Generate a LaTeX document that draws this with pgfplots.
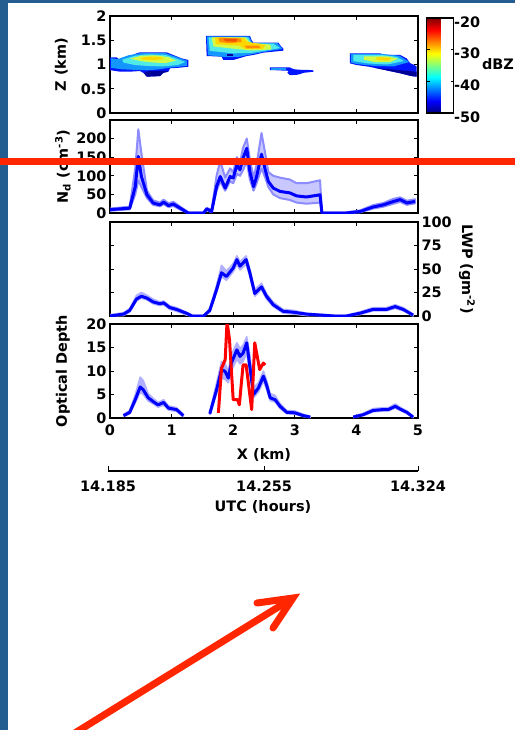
\documentclass[border=0pt]{standalone}
\usepackage{fontspec}
\setmainfont{DejaVu Sans}
\usepackage{pgfplots}
\pgfplotsset{compat=1.18}
\usepackage{pgfplotstable}

\definecolor{frameblue}{RGB}{36,94,145}
\definecolor{markred}{RGB}{255,38,0}
\definecolor{bandfill}{RGB}{200,200,255}
\definecolor{bandedge}{RGB}{140,140,255}
% jet-like shades for the radar blobs
\definecolor{jA}{RGB}{0,0,150}
\definecolor{jB}{RGB}{0,20,255}
\definecolor{jC}{RGB}{20,150,255}
\definecolor{jD}{RGB}{80,235,230}
\definecolor{jE}{RGB}{210,250,70}
\definecolor{jF}{RGB}{255,215,0}
\definecolor{jG}{RGB}{255,140,0}
\definecolor{jH}{RGB}{240,80,0}

\pgfplotsset{
  every axis/.append style={
    /pgf/number format/assume math mode=true,
    tick label style={font=\fontsize{14.5}{15}\selectfont\bfseries},
    label style={font=\fontsize{14.5}{15}\selectfont\bfseries},
  },
  panel/.style={scale only axis, width=308bp, xmin=0, xmax=5,
    xtick={0,...,5}, xticklabels={}, tick align=inside,
    major tick length=4bp, axis line style={line width=1.1bp},
    every tick/.style={black, line width=0.9bp},
    ylabel style={at={(axis description cs:-0.158,0.5)}, anchor=center}},
  midline/.style={blue, line width=3bp, line join=round},
  band/.style={fill=bandfill, draw=bandedge, line width=2bp, line join=round},
  thinband/.style={fill=bandfill!60!bandedge, draw=bandfill!60!bandedge, line width=1.5bp, line join=round},
}

% Nd central values
\pgfplotstableread{
x mid
0.00 9
0.32 13
0.41 71
0.46 152
0.51 98
0.60 49
0.70 27
0.81 22
0.87 29
0.95 20
1.03 24
1.14 13
1.27 0
1.52 0
1.57 11
1.65 4
1.73 71
1.79 98
1.87 67
1.95 98
2.00 94
2.06 129
2.11 116
2.16 147
2.22 174
2.27 112
2.33 71
2.38 98
2.46 158
2.52 116
2.57 85
2.65 67
2.76 58
2.92 54
3.03 46
3.19 43
3.41 49
3.44 0
3.84 0
4.06 4
4.27 16
4.44 22
4.60 31
4.71 36
4.82 27
4.95 31
}\ndtab

% LWP central values
\pgfplotstableread{
x mid
0.00 0
0.22 2
0.32 6
0.43 18
0.51 21
0.60 19
0.70 15
0.81 13
0.87 14
0.97 9
1.08 7
1.24 3
1.33 0
1.52 0
1.62 6
1.73 28
1.81 46
1.89 42
1.95 47
2.00 51
2.06 60
2.11 53
2.21 60
2.27 46
2.35 24
2.46 31
2.54 21
2.65 12
2.81 5
2.98 4
3.19 2
3.63 0
3.84 0
4.06 3
4.27 7
4.49 7
4.63 10
4.76 7
4.92 1
}\lwptab

% optical depth, three pieces
\pgfplotstableread{
x mid
0.22 0.5
0.32 1.2
0.41 3.9
0.49 6.6
0.54 6.0
0.62 4.3
0.70 3.5
0.78 2.8
0.87 3.3
0.95 2.1
1.08 1.8
1.19 0.5
}\odA
\pgfplotstableread{
x mid
1.62 0.9
1.73 6.0
1.81 10.3
1.87 9.9
1.92 8.5
1.97 11.7
2.06 14.5
2.11 13.1
2.16 13.8
2.22 16.0
2.27 11.0
2.33 5.0
2.41 6.4
2.49 8.9
2.54 7.1
2.60 4.3
2.68 3.9
2.76 2.5
2.87 1.2
3.00 1.1
3.14 0.5
3.25 0.2
}\odB
\pgfplotstableread{
x mid
3.95 0.2
4.11 0.7
4.27 1.6
4.44 1.8
4.52 1.8
4.63 2.5
4.71 1.9
4.82 1.2
4.92 0.2
}\odC

\begin{document}
\begin{tikzpicture}
\useasboundingbox (0,0) rectangle (515bp,-730bp);
\fill[white] (0,0) rectangle (515bp,-730bp);
\fill[frameblue] (0,0) rectangle (515bp,-3bp);
\fill[frameblue] (0,0) rectangle (8bp,-730bp);

% radar reflectivity
\begin{axis}[panel, at={(110bp,-113bp)}, anchor=south west, height=97bp,
  ymin=0, ymax=2, ytick={0,0.5,1,1.5,2}, ylabel={Z (km)},
  colorbar, colormap/jet, point meta min=-50, point meta max=-20,
  colorbar style={at={(parent axis.north east)}, anchor=north west,
    xshift=0bp, yshift=-2bp,
    scale only axis, width=27bp, height=95bp, ytick={-50,-40,-30,-20},
    yticklabel pos=right, tick align=inside, major tick length=3bp,
    yticklabel style={xshift=-3bp, yshift=-4bp},
    axis line style={line width=1.1bp},
    every tick/.style={black, line width=0.9bp}}]
% blob 1
\addplot[fill=jB, draw=none] coordinates {(0,1.148)(0.108,1.148)(0.162,1.093)(0.189,1.038)(0.243,1.058)(0.298,1.162)(0.433,1.23)(0.487,1.251)(0.92,1.251)(1.028,1.196)(1.163,1.127)(1.272,1.093)(1.272,0.955)(1.136,0.935)(0.974,0.921)(0.947,0.852)(0.866,0.832)(0.812,0.763)(0.595,0.749)(0.552,0.818)(0.487,0.866)(0.325,0.852)(0.162,0.852)(0.054,0.873)(0,0.887)};
\addplot[fill=jA, draw=none] coordinates {(0.55,0.82)(0.6,0.75)(0.81,0.76)(0.87,0.83)(0.95,0.85)(0.9,0.87)(0.6,0.86)};
\addplot[fill=jC, draw=none] coordinates {(0.02,1.13)(0.12,1.11)(0.3,1.19)(0.5,1.235)(0.9,1.235)(1.05,1.17)(1.25,1.08)(1.25,0.97)(1.0,0.94)(0.8,0.9)(0.6,0.88)(0.4,0.89)(0.2,0.9)(0.02,0.93)};
\addplot[fill=jD, draw=none] coordinates {(0.2,1.1)(0.4,1.18)(0.6,1.21)(0.9,1.2)(1.1,1.11)(1.22,1.05)(1.1,0.99)(0.85,0.96)(0.6,0.97)(0.4,0.99)(0.22,1.04)};
\addplot[fill=jE, draw=none] coordinates {(0.33,1.12)(0.5,1.18)(0.75,1.19)(0.95,1.15)(1.07,1.08)(0.9,1.03)(0.7,1.04)(0.5,1.07)};
\addplot[fill=jF, draw=none] coordinates {(0.48,1.135)(0.65,1.165)(0.82,1.155)(0.88,1.11)(0.7,1.09)(0.53,1.1)};
% blob 2
\addplot[fill=jB, draw=none] coordinates {(1.558,1.588)(2.273,1.588)(2.3,1.5)(2.327,1.45)(2.733,1.45)(2.78,1.37)(2.814,1.33)(2.814,1.285)(2.489,1.244)(2.327,1.196)(2.219,1.175)(2.1,1.13)(2.002,1.093)(1.84,1.093)(1.813,1.162)(1.569,1.175)};
\addplot[fill=jC, draw=none] coordinates {(1.57,1.58)(2.26,1.58)(2.31,1.44)(2.72,1.44)(2.8,1.32)(2.5,1.26)(2.3,1.21)(2.1,1.16)(1.9,1.15)(1.59,1.19)};
\addplot[fill=jD, draw=none] coordinates {(1.6,1.56)(2.24,1.56)(2.3,1.43)(2.65,1.43)(2.76,1.34)(2.5,1.28)(2.3,1.24)(2.0,1.23)(1.62,1.28)};
\addplot[fill=jE, draw=none] coordinates {(1.65,1.56)(2.2,1.56)(2.27,1.45)(2.6,1.41)(2.62,1.31)(2.3,1.29)(2.05,1.32)(1.68,1.37)};
\addplot[fill=jF, draw=none] coordinates {(1.7,1.56)(2.17,1.55)(2.22,1.47)(2.52,1.4)(2.48,1.32)(2.2,1.32)(2.1,1.39)(1.72,1.42)};
\addplot[fill=jG, draw=none] coordinates {(1.76,1.55)(2.12,1.54)(2.14,1.47)(1.98,1.44)(1.78,1.46)};
\addplot[fill=jG, draw=none] coordinates {(2.18,1.39)(2.42,1.39)(2.44,1.34)(2.22,1.33)};
\addplot[fill=jH, draw=none] coordinates {(1.84,1.535)(2.07,1.525)(2.05,1.47)(1.87,1.48)};
\addplot[fill=jA, draw=none] coordinates {(1.9,1.21)(2.0,1.21)(2.0,1.18)(1.9,1.18)};
% blob 3
\addplot[fill=jB, draw=none] coordinates {(2.597,0.942)(2.92,0.942)(2.95,0.92)(3.0,0.9)(3.1,0.89)(3.2,0.89)(3.3,0.88)(3.3,0.85)(3.15,0.83)(3.05,0.79)(2.92,0.78)(2.88,0.83)(2.9,0.87)(2.597,0.887)};
\addplot[fill=jC, draw=none] coordinates {(2.62,0.935)(2.85,0.935)(2.85,0.895)(2.62,0.895)};
% blob 4
\addplot[fill=jB, draw=none] coordinates {(3.896,1.23)(4.383,1.23)(4.45,1.2)(4.708,1.196)(4.816,1.127)(4.87,1.03)(4.924,1.0)(4.978,0.96)(4.978,0.75)(4.9,0.76)(4.708,0.82)(4.45,0.89)(4.2,0.955)(4.0,0.99)(3.896,1.024)};
\addplot[fill=jA, draw=none] coordinates {(4.3,0.93)(4.978,0.85)(4.978,0.75)(4.9,0.76)(4.708,0.82)(4.45,0.89)};
\addplot[fill=jC, draw=none] coordinates {(3.91,1.22)(4.4,1.22)(4.7,1.18)(4.86,1.05)(4.6,0.96)(4.3,0.97)(4.0,1.01)(3.91,1.04)};
\addplot[fill=jD, draw=none] coordinates {(3.95,1.2)(4.4,1.2)(4.65,1.16)(4.77,1.07)(4.5,1.0)(4.2,1.02)(3.95,1.07)};
\addplot[fill=jE, draw=none] coordinates {(4.12,1.17)(4.5,1.17)(4.67,1.12)(4.55,1.05)(4.3,1.05)(4.12,1.1)};
\addplot[fill=jF, draw=none] coordinates {(4.33,1.15)(4.57,1.14)(4.52,1.08)(4.33,1.09)};
\end{axis}
\node[font=\fontsize{14.5}{15}\selectfont\bfseries] at (498bp,-64bp) {dBZ};

% droplet number
\begin{axis}[panel, at={(110bp,-213bp)}, anchor=south west, height=93bp,
  ymin=0, ymax=250, ytick={0,50,...,200},
  ylabel={N\textsubscript{d} (cm\textsuperscript{-3})},
  ylabel style={at={(axis description cs:-0.153,0.5)}}]
% spread: upper edge forward, lower edge back
\addplot[band] coordinates {(0,12)(0.32,17)(0.41,120)(0.46,225)(0.51,160)(0.60,60)(0.70,34)(0.81,28)(0.87,36)(0.95,26)(1.03,30)(1.14,17)(1.27,2)(1.52,2)(1.57,14)(1.65,8)(1.73,100)(1.79,140)(1.87,95)(1.95,120)(2.00,110)(2.06,150)(2.11,135)(2.16,175)(2.22,200)(2.27,145)(2.33,95)(2.38,130)(2.46,215)(2.52,160)(2.57,110)(2.65,100)(2.76,95)(2.92,90)(3.03,80)(3.19,80)(3.41,88)(3.44,2)(3.84,2)(4.06,7)(4.27,21)(4.44,27)(4.60,38)(4.71,42)(4.82,33)(4.95,37)
  (4.95,26)(4.82,22)(4.71,30)(4.60,25)(4.44,17)(4.27,12)(4.06,2)(3.84,0)(3.44,0)(3.41,28)(3.19,25)(3.03,28)(2.92,35)(2.76,40)(2.65,50)(2.57,70)(2.52,95)(2.46,120)(2.38,80)(2.33,60)(2.27,90)(2.22,140)(2.16,115)(2.11,100)(2.06,105)(2.00,80)(1.95,85)(1.87,60)(1.79,85)(1.73,60)(1.65,2)(1.57,8)(1.52,0)(1.27,0)(1.14,9)(1.03,19)(0.95,16)(0.87,24)(0.81,18)(0.70,22)(0.60,40)(0.51,70)(0.46,88)(0.41,50)(0.32,10)(0,6)};
\addplot[midline] table[x=x,y=mid]{\ndtab};
\end{axis}

% liquid water path
\begin{axis}[panel, at={(110bp,-316bp)}, anchor=south west, height=94bp,
  ymin=0, ymax=100, ytick={0,25,...,100}, yticklabel pos=right,
  ylabel={LWP (gm\textsuperscript{-2})},
  ylabel style={at={(axis description cs:1.159,0.5)}, anchor=center, rotate=180}]
\addplot[thinband] coordinates {(0,1.5)(0.22,3.5)(0.32,8)(0.43,22)(0.51,25)(0.60,22)(0.70,18)(0.81,15)(0.87,16)(0.97,11)(1.08,9)(1.24,4)(1.33,1)(1.52,1)(1.62,8)(1.73,33)(1.81,54)(1.89,48)(1.95,52)(2.00,56)(2.06,64)(2.11,58)(2.21,64)(2.27,50)(2.35,28)(2.46,35)(2.54,24)(2.65,15)(2.81,7)(2.98,6)(3.19,3)(3.63,1)(3.84,1)(4.06,4.5)(4.27,9)(4.49,9)(4.63,12)(4.76,9)(4.92,2)
  (4.92,0)(4.76,5.5)(4.63,8)(4.49,5.5)(4.27,5.5)(4.06,1.5)(3.84,0)(3.63,0)(3.19,0.5)(2.98,2)(2.81,3)(2.65,10)(2.54,18)(2.46,28)(2.35,21)(2.27,42)(2.21,55)(2.11,49)(2.06,55)(2.00,47)(1.95,43)(1.89,38)(1.81,42)(1.73,25)(1.62,4)(1.52,0)(1.33,0)(1.24,1)(1.08,5)(0.97,7)(0.87,12)(0.81,11)(0.70,13)(0.60,17)(0.51,19)(0.43,16)(0.32,4)(0.22,0.5)(0,0)};
\addplot[midline] table[x=x,y=mid]{\lwptab};
\end{axis}

% optical depth
\begin{axis}[panel, at={(110bp,-418bp)}, anchor=south west, height=94bp,
  ymin=0, ymax=20, ytick={0,5,...,20}, xticklabels={0,1,2,3,4,5},
  xticklabel style={yshift=-3bp},
  xlabel={X (km)}, xlabel style={yshift=-6bp}, ylabel={Optical Depth},
  ylabel style={at={(axis description cs:-0.153,0.5)}}]
\addplot[thinband] coordinates {(0.22,0.8)(0.32,1.6)(0.41,5.0)(0.49,8.7)(0.54,8.0)(0.62,5.2)(0.70,4.2)(0.78,3.3)(0.87,3.9)(0.95,2.6)(1.08,2.2)(1.19,0.8)
  (1.19,0.3)(1.08,1.4)(0.95,1.7)(0.87,2.7)(0.78,2.3)(0.70,3.0)(0.62,3.6)(0.54,5.0)(0.49,5.5)(0.41,3.2)(0.32,0.9)(0.22,0.3)};
\addplot[thinband] coordinates {(1.62,1.3)(1.73,7.5)(1.81,12.0)(1.87,11.5)(1.92,10.0)(1.97,13.5)(2.06,16.0)(2.11,14.8)(2.16,15.5)(2.22,17.3)(2.27,13.5)(2.33,6.5)(2.41,7.5)(2.49,10.0)(2.54,8.2)(2.60,5.2)(2.68,4.8)(2.76,3.1)(2.87,1.6)(3.00,1.5)(3.14,0.8)(3.25,0.4)
  (3.25,0.1)(3.14,0.3)(3.00,0.8)(2.87,0.9)(2.76,2.0)(2.68,3.4)(2.60,3.7)(2.54,6.2)(2.49,7.8)(2.41,5.5)(2.33,4.3)(2.27,9.5)(2.22,13.8)(2.16,12.0)(2.11,11.5)(2.06,12.5)(1.97,10.0)(1.92,7.5)(1.87,8.2)(1.81,8.5)(1.73,5.2)(1.62,0.6)};
\addplot[thinband] coordinates {(3.95,0.4)(4.11,1.0)(4.27,2.0)(4.44,2.2)(4.52,2.2)(4.63,3.0)(4.71,2.3)(4.82,1.5)(4.92,0.4)
  (4.92,0.1)(4.82,0.9)(4.71,1.6)(4.63,2.1)(4.52,1.5)(4.44,1.5)(4.27,1.3)(4.11,0.5)(3.95,0.1)};
\addplot[midline] table[x=x,y=mid]{\odA};
\addplot[midline] table[x=x,y=mid]{\odB};
\addplot[midline] table[x=x,y=mid]{\odC};
\addplot[red, line width=3bp, line join=round] coordinates {(1.76,1.1)(1.81,10.6)(1.87,12.4)(1.90,20.5)(1.94,16.7)(2.00,3.9)(2.07,3.9)(2.10,2.8)(2.16,11.3)(2.21,11.3)(2.30,1.8)(2.35,16.0)(2.43,10.3)(2.49,11.7)(2.52,11.3)};
\end{axis}

% time axis
\begin{axis}[scale only axis, at={(108bp,-471bp)}, anchor=south west,
  width=310bp, height=10bp, xmin=14.185, xmax=14.324, ymin=0, ymax=1,
  axis x line*=bottom, axis y line=none,
  xtick={14.185,14.255,14.324}, xticklabels={14.185,14.255,14.324},
  xticklabel style={yshift=-6bp},
  tick align=inside, major tick length=5bp,
  axis line style={line width=1.1bp}, every tick/.style={black, line width=0.9bp},
  xlabel={UTC (hours)}, xlabel style={yshift=-2bp}]
\addplot[draw=none] coordinates {(14.2,0.5)};
\end{axis}

% overlays
\draw[markred, line width=7bp] (0,-161bp) -- (515bp,-161bp);
\begin{scope}
\clip (0,0) rectangle (515bp,-730bp);
\draw[markred, line width=7bp] (70bp,-736bp) -- (288bp,-601bp);
\draw[markred, line width=7bp, line cap=round, line join=miter] (257bp,-603bp) -- (293bp,-598bp) -- (273bp,-628bp);
\end{scope}
\end{tikzpicture}
\end{document}
